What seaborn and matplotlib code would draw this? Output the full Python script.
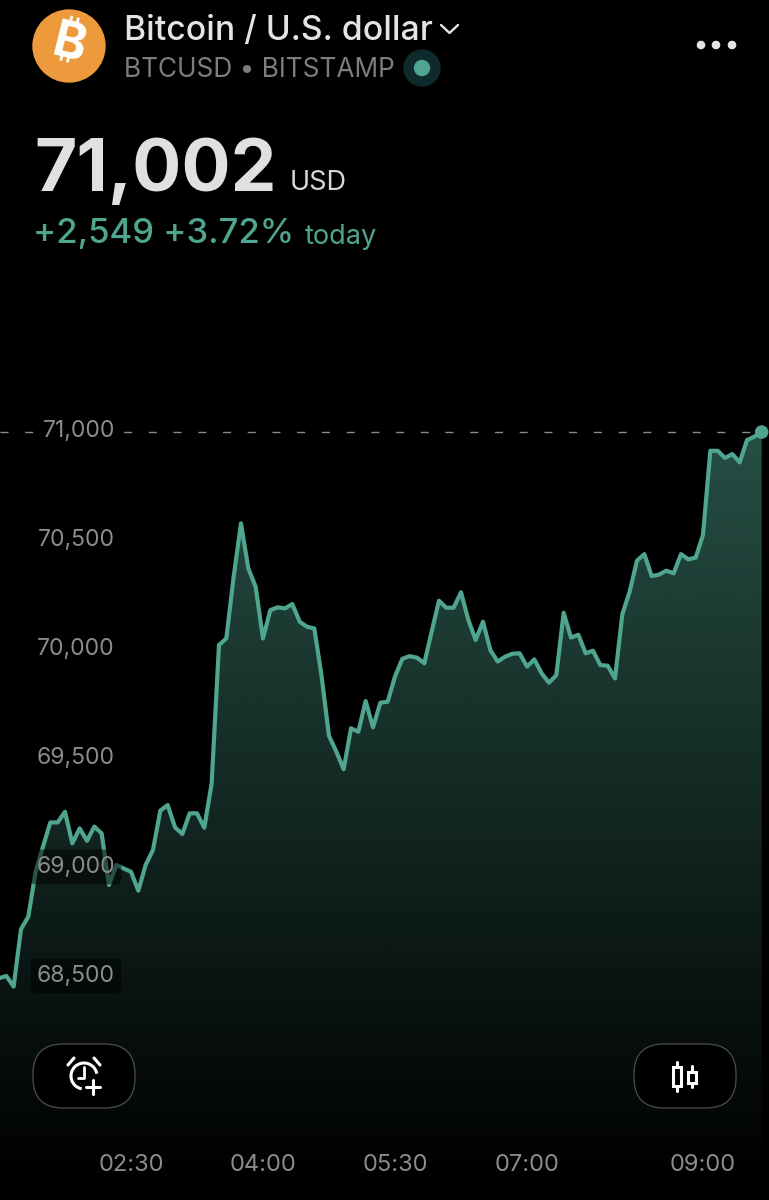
import numpy as np
import pandas as pd
import matplotlib.pyplot as plt
import seaborn as sns
from matplotlib.colors import to_rgb
from matplotlib.patches import Arc, Circle, FancyBboxPatch, Rectangle
from matplotlib.transforms import ScaledTranslation

# Price every 5 minutes
prices = [
    68496, 68507, 68458, 68721, 68779, 68985, 69100, 69211, 69211, 69260,
    69115, 69184, 69127, 69192, 69161, 68924, 69016, 69000, 68985, 68898,
    69016, 69085, 69265, 69291, 69189, 69158, 69253, 69253, 69187, 69390,
    70025, 70055, 70338, 70583, 70377, 70292, 70055, 70185, 70198, 70193,
    70213, 70132, 70109, 70101, 69880, 69608, 69536, 69455, 69643, 69627,
    69768, 69647, 69760, 69765, 69880, 69962, 69974, 69967, 69941, 70086,
    70228, 70196, 70196, 70267, 70140, 70048, 70132, 70002, 69949, 69971,
    69985, 69987, 69926, 69959, 69895, 69852, 69887, 70173, 70059, 70072,
    69987, 69999, 69933, 69930, 69872, 70166, 70270, 70412, 70442, 70341,
    70348, 70366, 70354, 70442, 70418, 70426, 70530, 70916, 70916, 70883,
    70901, 70863, 70965, 70981, 71002,
]
start_minute = 60  # 01:00
step_minutes = 5

y_ticks = [71000, 70500, 70000, 69500, 69000, 68500]
x_ticks = [150, 240, 330, 420, 540]
x_tick_labels = ["02:30", "04:00", "05:30", "07:00", "09:00"]

line_color = "#4fa58f"
label_color = "#8c8c8c"

df = pd.DataFrame({"minute": start_minute + step_minutes * np.arange(len(prices)), "price": prices})

sns.set_theme(style="dark", rc={"axes.facecolor": "black", "figure.facecolor": "black"})
plt.rcParams["font.family"] = ["Inter", "DejaVu Sans"]

fig = plt.figure(figsize=(7.69, 12), dpi=100)
ax = fig.add_axes([0, 0, 1, 1])

# Limits chosen so 5 min = 7.33 px and 500 USD = 109 px
x_lim = (60.7, 585.0)
y_lim = (67479, 72984)

# Gradient under the line, clipped to the area below the price
poly = ax.fill_between(df["minute"], df["price"], y_lim[0], color="none", lw=0)
grad = np.zeros((256, 1, 4))
grad[:, 0, :3] = to_rgb(line_color)
grad[:, 0, 3] = np.linspace(0.48, 0.0, 256)
img = ax.imshow(grad, extent=[df["minute"].min(), df["minute"].max(), y_lim[0] + 60, prices[-1]],
                aspect="auto", zorder=1, origin="upper")
img.set_clip_path(poly.get_paths()[0], ax.transData)

# Dashed last price line
ax.plot([x_lim[0], df["minute"].max()], [prices[-1], prices[-1]], color="#8a8a8a", lw=1.0,
        ls=(0, (5.8, 12)), zorder=1.5)

sns.lineplot(data=df, x="minute", y="price", ax=ax, color=line_color, lw=3.0,
             estimator=None, zorder=2)
sns.scatterplot(data=df.tail(1), x="minute", y="price", ax=ax, color=line_color, s=95,
                edgecolor="none", zorder=2.2)

ax.set_xlim(x_lim)
ax.set_ylim(y_lim)
ax.set_xlabel("")
ax.set_ylabel("")
ax.grid(False)
ax.set_axisbelow(False)
for s in ax.spines.values():
    s.set_visible(False)

# Tick labels sit inside the plot
ax.set_xticks(x_ticks)
ax.set_xticklabels(x_tick_labels)
ax.set_yticks(y_ticks)
ax.set_yticklabels([f"{v:,}" for v in y_ticks])
ax.tick_params(axis="x", length=0, pad=-33, labelsize=17, labelcolor=label_color)
ax.tick_params(axis="y", length=0, pad=-82.8, labelsize=16.5, labelcolor=label_color)

shift = ScaledTranslation(0, 4 / 100, fig.dpi_scale_trans)
for v, lab in zip(y_ticks, ax.get_yticklabels()):
    lab.set_transform(lab.get_transform() + shift)
    if v == 71000:
        lab.set_bbox(dict(boxstyle="round,pad=0.3", fc="black", ec="none"))
    elif v in (69000, 68500):
        lab.set_bbox(dict(boxstyle="round,pad=0.28", fc="black", ec="none", alpha=0.5))

# Overlay in screen pixels for the app header and buttons
ui = fig.add_axes([0, 0, 1, 1], facecolor="none")
ui.set_xlim(0, 769)
ui.set_ylim(1200, 0)
ui.axis("off")

ui.add_patch(Circle((69, 46), 36, color="#ec9a3c"))
ui.text(69, 46, "\u20bf", color="white", fontsize=36, fontweight="bold", rotation=-14,
        ha="center", va="center",
        family=["Inter", "Roboto", "Open Sans", "Noto Sans", "Lato", "Liberation Sans", "DejaVu Sans"])

ui.text(124, 40, "Bitcoin / U.S. dollar", color="#e4e4e4", fontsize=24.3, fontweight="medium", va="baseline")
ui.plot([441, 449.5, 458], [25, 33, 25], color="#e4e4e4", lw=1.7)
ui.text(124, 77, "BTCUSD \u2022 BITSTAMP", color="#7d7d7d", fontsize=18.9, va="baseline")
ui.add_patch(Circle((422, 68), 18, color="#0e2a2c"))
ui.add_patch(Circle((422, 68), 7.5, color=line_color))
for x in (701, 716, 732):
    ui.add_patch(Circle((x, 45), 3.6, color="#e4e4e4"))

ui.text(34, 191, "71,002", color="#e0e0e0", fontsize=52.5, fontweight="bold", va="baseline")
ui.text(290, 190, "USD", color="#d8d8d8", fontsize=19.5, va="baseline")
ui.text(33, 243, "+2,549 +3.72%", color=line_color, fontsize=25, fontweight="medium", va="baseline")
ui.text(305, 244, "today", color=line_color, fontsize=19.5, va="baseline")

# Buttons at the bottom
for x in (33, 634):
    ui.add_patch(FancyBboxPatch((x, 1044), 102, 64, boxstyle="round,pad=0,rounding_size=30",
                                fc="black", ec="#4e4e4e", lw=0.9))

# Alarm icon
ui.add_patch(Arc((84, 1076), 26, 26, theta1=100, theta2=350, color="white", lw=2.2))
ui.plot([84, 84, 78], [1067, 1078, 1078], color="white", lw=2)
ui.plot([68, 74], [1065, 1058], color="white", lw=2.2)
ui.plot([94, 100], [1058, 1065], color="white", lw=2.2)
ui.plot([86, 100], [1087, 1087], color="white", lw=2.2)
ui.plot([93, 93], [1080, 1094], color="white", lw=2.2)

# Candle icon
ui.plot([677, 677], [1062, 1091], color="white", lw=2.2)
ui.add_patch(Rectangle((673, 1067), 8, 19, fc="black", ec="white", lw=2.2, zorder=3))
ui.plot([692, 692], [1066, 1087], color="white", lw=2.2)
ui.add_patch(Rectangle((688, 1072), 8, 11, fc="black", ec="white", lw=2.2, zorder=3))

fig.savefig("out.png", dpi=100, facecolor="black")
